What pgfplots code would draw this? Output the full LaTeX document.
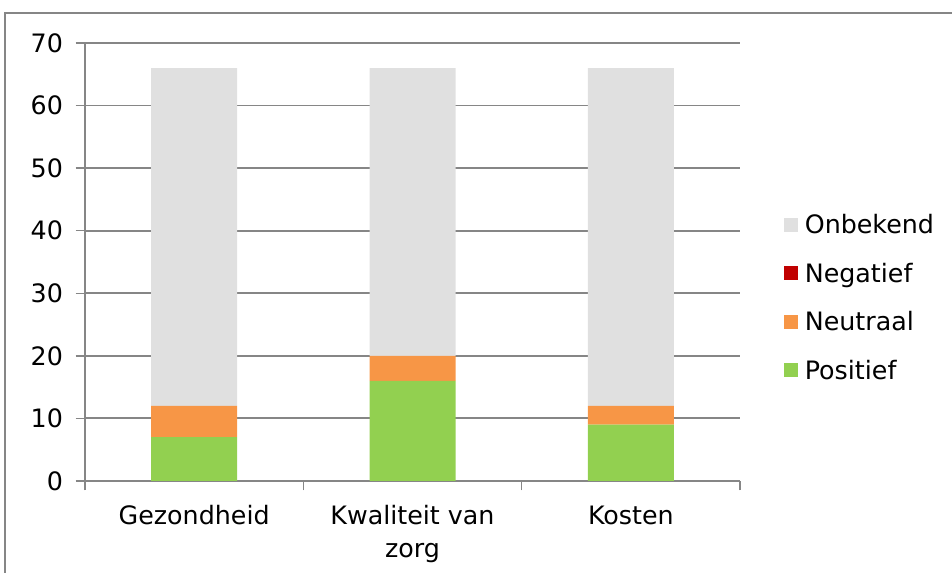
\documentclass[border=0pt]{standalone}
\usepackage{fontspec}
\setmainfont{DejaVu Sans}
\usepackage{pgfplots}
\pgfplotsset{compat=1.18}
\definecolor{cgreen}{RGB}{146,208,80}
\definecolor{corange}{RGB}{247,150,70}
\definecolor{cred}{RGB}{192,0,0}
\definecolor{cgrey}{RGB}{224,224,224}
\definecolor{cline}{RGB}{134,134,134}
\begin{document}
\begin{tikzpicture}[x=0.75pt,y=0.75pt]
\useasboundingbox (0,0) rectangle (952,573);
\draw[cline, line width=1.3pt] (5,-5) -- (5,560) -- (960,560);
\begin{axis}[
  at={(63.75pt,69pt)}, anchor=south west,
  scale only axis, width=491.25pt, height=328.5pt,
  ybar stacked, bar width=64.5pt,
  xmin=-0.5, xmax=2.5, ymin=0, ymax=70,
  ytick={0,10,...,70},
  xtick={0,1,2},
  xticklabels={Gezondheid, Kwaliteit van\\zorg, Kosten},
  x tick label style={align=center, font=\fontsize{19}{24.5}\selectfont, yshift=-8pt},
  y tick label style={font=\fontsize{19}{23}\selectfont, xshift=-6pt},
  /pgf/number format/assume math mode=true,
  major x tick style={draw=none},
  minor xtick={-0.5,0.5,1.5,2.5},
  tick align=outside,
  major tick length=7pt, minor tick length=7pt,
  tick style={cline, line width=1pt},
  ymajorgrids, grid style={cline, line width=1.4pt},
  axis x line*=bottom, axis y line*=left,
  axis line style={cline, line width=1.4pt},
  reverse legend,
  legend style={at={(1.067,0.418)}, anchor=west, draw=none, fill=none,
    font=\fontsize{19}{23}\selectfont, row sep=16.5pt, column sep=3pt,
    legend cell align=left, inner xsep=0pt},
  legend image code/.code={\fill[#1] (0pt,-5pt) rectangle (10.5pt,5.5pt);},
]
\addplot[fill=cgreen, draw=none] coordinates {(0,7) (1,16) (2,9)};
\addplot[fill=corange, draw=none] coordinates {(0,5) (1,4) (2,3)};
\addplot[fill=cred, draw=none] coordinates {(0,0) (1,0) (2,0)};
\addplot[fill=cgrey, draw=none] coordinates {(0,54) (1,46) (2,54)};
\legend{Positief, Neutraal, Negatief, Onbekend}
\end{axis}
\end{tikzpicture}
\end{document}
